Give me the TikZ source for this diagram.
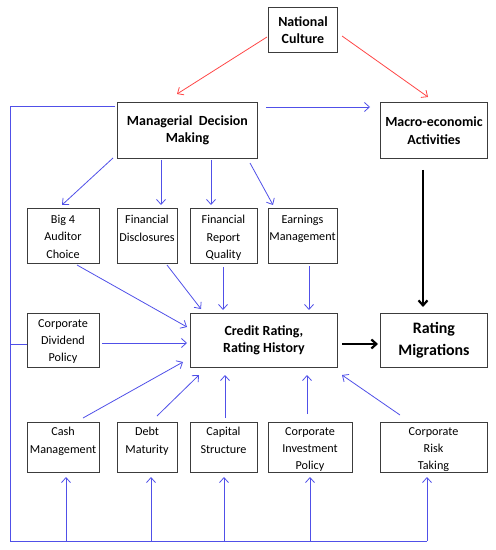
\documentclass[tikz,border=0pt]{standalone}
\usepackage{fontspec}
\setmainfont{Carlito}
\usetikzlibrary{arrows.meta}
\definecolor{bl}{RGB}{80,80,232}
\definecolor{rd}{RGB}{255,70,70}
\definecolor{bx}{RGB}{60,60,60}
\tikzset{
  box/.style={draw=bx, line width=0.9bp, inner sep=0pt, anchor=north west},
  big/.style={font=\fontsize{14}{17.5}\selectfont\bfseries, align=center},
  bigger/.style={font=\fontsize{16}{21.5}\selectfont\bfseries, align=center},
  small/.style={font=\fontsize{12.2}{17.5}\selectfont, align=center, inner sep=0pt, anchor=north},
  barr/.style={draw=bl, line width=0.8bp, -{Straight Barb[length=5bp,width=9bp]}},
  bln/.style={draw=bl, line width=0.8bp},
  rarr/.style={draw=rd, line width=0.8bp, -{Straight Barb[length=5bp,width=9bp]}},
  karr/.style={draw=black, line width=2.2bp, -{Straight Barb[length=5bp,width=9bp]}}
}
\begin{document}
\begin{tikzpicture}[x=1bp,y=-1bp]
\useasboundingbox (0,0) rectangle (496,550);
% main boxes
\node[box, big, minimum width=69bp, minimum height=45bp] (nc) at (268,7) {National\\Culture};
\node[box, big, minimum width=140bp, minimum height=56bp] (mdm) at (117,102) {Managerial~~Decision\\Making};
\node[box, big, minimum width=107bp, minimum height=56bp] (mac) at (380,102) {Macro-economic\\Activities};
\node[box, big, minimum width=147bp, minimum height=54bp] (cr) at (190,313) {Credit Rating,\\Rating History};
\node[box, bigger, minimum width=107bp, minimum height=54bp] (rm) at (380,313) {Rating\\Migrations};
% row 2
\node[box, minimum width=72bp, minimum height=55bp] (b4) at (27,208) {};
\node[small] at (63,215) {Big 4\\Auditor\\Choice};
\node[box, minimum width=60bp, minimum height=55bp] (fd) at (117,208) {};
\node[small] at (147,215) {Financial\\Disclosures};
\node[box, minimum width=67bp, minimum height=55bp] (frq) at (190,208) {};
\node[small] at (223.5,215) {Financial\\Report\\Quality};
\node[box, minimum width=69bp, minimum height=55bp] (em) at (268,208) {};
\node[small] at (302.5,215) {Earnings\\Management};
\node[box, minimum width=72bp, minimum height=54bp] (cdp) at (27,313) {};
\node[small] at (63,319) {Corporate\\Dividend\\Policy};
% row 3
\node[box, minimum width=72bp, minimum height=50bp] (cm) at (27,422) {};
\node[small] at (63,427) {Cash\\Management};
\node[box, minimum width=60bp, minimum height=50bp] (dm) at (117,422) {};
\node[small] at (147,427) {Debt\\Maturity};
\node[box, minimum width=67bp, minimum height=50bp] (cs) at (190,422) {};
\node[small] at (223.5,427) {Capital\\Structure};
\node[box, minimum width=84bp, minimum height=50bp] (cip) at (268,422) {};
\node[small] at (310,427) {Corporate\\Investment\\Policy};
\node[box, minimum width=107bp, minimum height=50bp] (crt) at (380,422) {};
\node[small] at (433.5,427) {Corporate\\Risk\\Taking};
% coordinates
\coordinate (tl) at (10,106);
\coordinate (ml) at (10,344);
\coordinate (bl) at (10,541);
\coordinate (br) at (427,541);
% red arrows
\draw[rarr] (267,37) -- (177,94);
\draw[rarr] (342,36) -- (428,97);
% MDM -> macro
\draw[barr] (266,107) -- (370,107);
% left frame
\draw[bln] (115,106) -- (tl) -- (bl) -- (br);
\draw[bln] (ml) -- (cdp.west |- ml);
% MDM to row2
\draw[barr] (113,158) -- (62,205);
\draw[barr] (161,160) -- (161,205);
\draw[barr] (211,160) -- (211,205);
\draw[barr] (250,163) -- (273,205);
% row2 to CR
\draw[barr] (77,265) -- (187,327);
\draw[barr] (167,265) -- (201,309);
\draw[barr] (223,267) -- (223,310);
\draw[barr] (309,266) -- (309,310);
\draw[barr] (102,343) -- (187,343);
% row3 to CR
\draw[barr] (83,418) -- (183,362);
\draw[barr] (157,416) -- (199,375);
\draw[barr] (225,418) -- (225,375);
\draw[barr] (307,414) -- (307,375);
\draw[barr] (400,415) -- (342,375);
% bottom up arrows
\draw[barr] (66,541) -- (66,477);
\draw[barr] (151,541) -- (151,477);
\draw[barr] (224,541) -- (224,477);
\draw[barr] (310,541) -- (310,477);
\draw[barr] (427,541) -- (427,477);
% black arrows
\draw[karr] (423,170) -- (423,307);
\draw[karr] (342,344) -- (378,344);
\end{tikzpicture}
\end{document}
